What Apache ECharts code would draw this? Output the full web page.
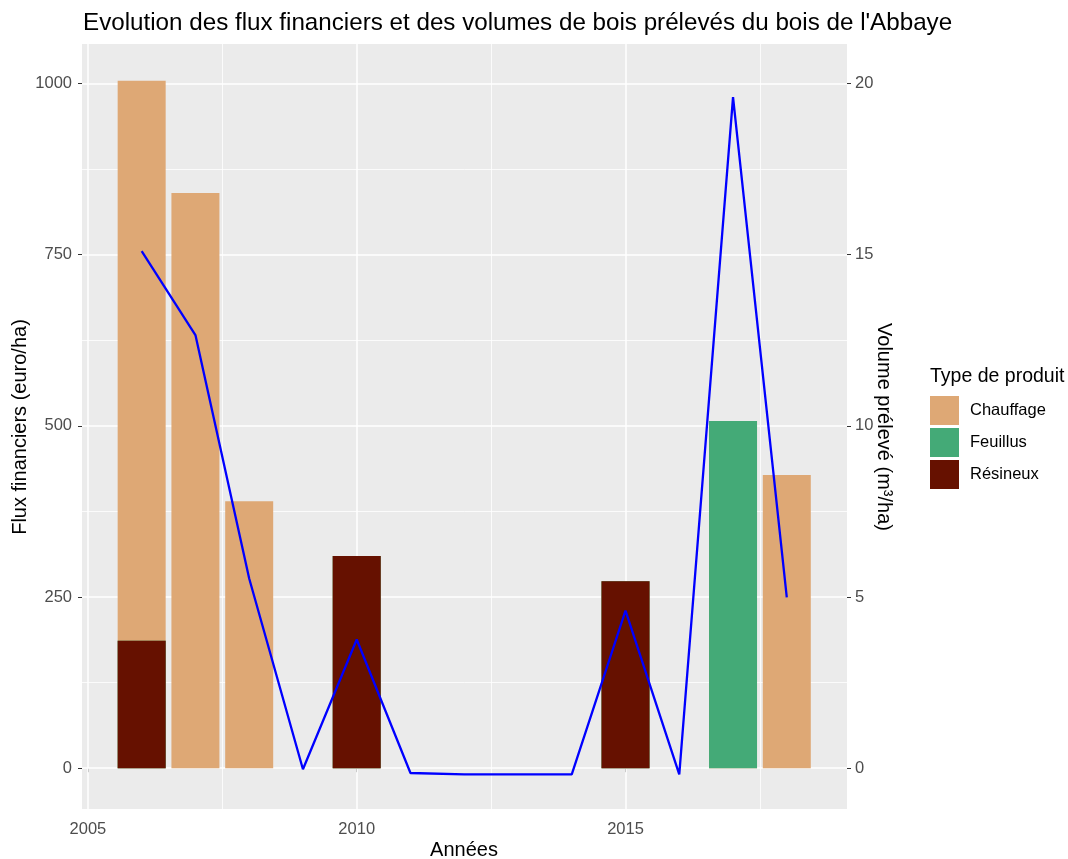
<!DOCTYPE html>
<html><head><meta charset="utf-8">
<script src="https://cdn.jsdelivr.net/npm/echarts@6/dist/echarts.min.js"></script>
<style>html,body{margin:0;padding:0;background:#fff}#c{width:1068px;height:859px}</style>
</head><body><div id="c"></div>
<script>
const years = [2006,2007,2008,2009,2010,2011,2012,2013,2014,2015,2016,2017,2018];
const chauffage = [818,840,390,0,0,0,0,0,0,0,0,0,428];
const feuillus  = [0,0,0,0,0,0,0,0,0,0,0,507,0];
const resineux  = [186,0,0,0,310,0,0,0,0,273,0,0,0];
const volume    = [15.1,12.65,5.54,-0.03,3.76,-0.14,-0.18,-0.18,-0.18,4.6,-0.18,19.6,4.99];
const xTicks = [2005,2010,2015];
const xMinor = [2007.5,2012.5,2017.5];
const yTicks = [0,250,500,750,1000];
const yMinor = [125,375,625,875];
const y2Ticks = [0,5,10,15,20];

const FONT = "'Liberation Sans', Arial, sans-serif";
const pair = (arr) => years.map((y,i) => [y, arr[i]]);
// stacking order (bottom to top): Résineux, Feuillus, Chauffage
const topRes = resineux.slice();
const topFeu = resineux.map((v,i) => v + feuillus[i]);
const topCha = topFeu.map((v,i) => v + chauffage[i]);

const chart = echarts.init(document.getElementById('c'));
const grid = {left:82, top:44, right:221, bottom:50};

const gridLines = [];
xTicks.forEach(v => gridLines.push({xAxis:v, lineStyle:{width:1.5}}));
xMinor.forEach(v => gridLines.push({xAxis:v, lineStyle:{width:0.8}}));
yTicks.forEach(v => gridLines.push({yAxis:v, lineStyle:{width:1.5}}));
yMinor.forEach(v => gridLines.push({yAxis:v, lineStyle:{width:0.8}}));

const barBase = {type:'bar', barWidth:48, barGap:'-100%', xAxisIndex:0, yAxisIndex:0, z:3};
const fmt = v => String(v);

chart.setOption({
  animation:false,
  backgroundColor:'#ffffff',
  grid:{...grid, show:true, backgroundColor:'#ebebeb', borderWidth:0},
  xAxis:{type:'value', min:2004.89, max:2019.12,
    axisLine:{show:false}, splitLine:{show:false},
    axisTick:{show:true, customValues:xTicks, length:4, lineStyle:{color:'#333333', width:1}},
    axisLabel:{customValues:xTicks, formatter:fmt, margin:12, fontSize:16.5, color:'#4d4d4d', fontFamily:FONT}},
  yAxis:[
    {type:'value', min:-59.6, max:1057.6, position:'left',
     axisLine:{show:false}, splitLine:{show:false},
     axisTick:{show:true, customValues:yTicks, length:4, lineStyle:{color:'#333333', width:1}},
     axisLabel:{customValues:yTicks, formatter:fmt, margin:10, fontSize:16.5, color:'#4d4d4d', fontFamily:FONT}},
    {type:'value', min:-1.192, max:21.152, position:'right',
     axisLine:{show:false}, splitLine:{show:false},
     axisTick:{show:true, customValues:y2Ticks, length:4, lineStyle:{color:'#333333', width:1}},
     axisLabel:{customValues:y2Ticks, formatter:fmt, margin:8, fontSize:16.5, color:'#4d4d4d', fontFamily:FONT}}
  ],
  legend:{data:['Chauffage','Feuillus','Résineux'], orient:'vertical', left:930, top:396, padding:0,
    itemWidth:29, itemHeight:29, itemGap:3, icon:'rect', selectedMode:false,
    textStyle:{fontSize:16.5, color:'#000', fontFamily:FONT, padding:[0,0,0,6]}},
  graphic:[
    {type:'text', left:83, top:11, style:{text:"Evolution des flux financiers et des volumes de bois prélevés du bois de l'Abbaye", font:"24.2px "+FONT, fill:'#000'}},
    {type:'text', x:20, y:427, rotation:Math.PI/2, style:{text:'Flux financiers (euro/ha)', font:"20px "+FONT, fill:'#000', align:'center', verticalAlign:'middle'}},
    {type:'text', x:884, y:427, rotation:-Math.PI/2, style:{text:'Volume prélevé (m³/ha)', font:"20px "+FONT, fill:'#000', align:'center', verticalAlign:'middle'}},
    {type:'text', x:464, y:850, style:{text:'Années', font:"20px "+FONT, fill:'#000', align:'center', verticalAlign:'middle'}},
    {type:'text', left:930, top:367, style:{text:'Type de produit', font:"19.5px "+FONT, fill:'#000'}}
  ],
  series:[
    {type:'line', data:[], z:1, silent:true,
     markLine:{silent:true, z:1, symbol:'none', label:{show:false}, animation:false,
       lineStyle:{color:'#ffffff', type:'solid'}, data:gridLines}},
    {...barBase, name:'Chauffage', data:pair(topCha), itemStyle:{color:'#dea875'}},
    {...barBase, name:'Feuillus', data:pair(topFeu), itemStyle:{color:'#44aa77'}},
    {...barBase, name:'Résineux', data:pair(topRes), itemStyle:{color:'#661100'}},
    {type:'line', name:'Volume', data:pair(volume), xAxisIndex:0, yAxisIndex:1, z:5,
     symbol:'none', lineStyle:{color:'#0000ff', width:2.3}, itemStyle:{color:'#0000ff'}}
  ]
});
</script></body></html>
